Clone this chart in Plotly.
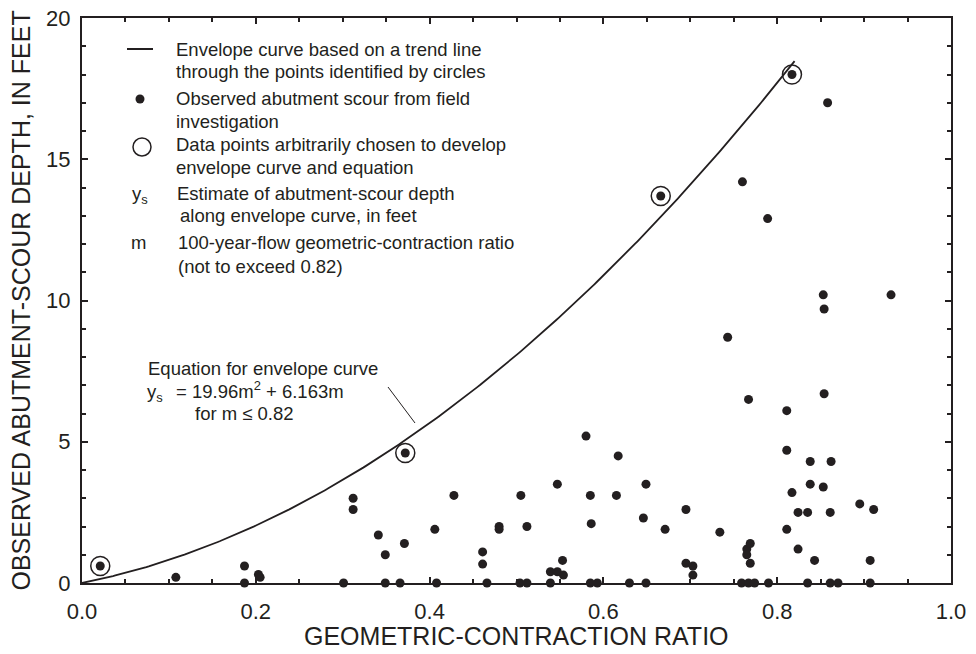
import numpy as np
import plotly.graph_objects as go

# ---------------- data ----------------
obs_x = [0.021, 0.108, 0.187, 0.187, 0.203, 0.205, 0.301, 0.312, 0.312, 0.341,
         0.349, 0.349, 0.366, 0.371, 0.372, 0.406, 0.408, 0.428, 0.461, 0.461,
         0.466, 0.480, 0.480, 0.504, 0.512, 0.505, 0.512, 0.539, 0.539, 0.547,
         0.553, 0.554, 0.547, 0.580, 0.585, 0.586, 0.585, 0.593, 0.617, 0.615,
         0.630, 0.646, 0.649, 0.649, 0.666, 0.671, 0.695, 0.695, 0.703, 0.703,
         0.734, 0.743, 0.759, 0.760, 0.765, 0.765, 0.767, 0.767, 0.769, 0.769,
         0.774, 0.789, 0.790, 0.811, 0.811, 0.811, 0.817, 0.817, 0.824, 0.824,
         0.835, 0.835, 0.838, 0.838, 0.843, 0.853, 0.853, 0.854, 0.854, 0.858,
         0.861, 0.861, 0.862, 0.870, 0.895, 0.907, 0.907, 0.911, 0.931]
obs_y = [0.6, 0.2, 0.6, 0.0, 0.3, 0.2, 0.0, 3.0, 2.6, 1.7,
         1.0, 0.0, 0.0, 1.4, 4.6, 1.9, 0.0, 3.1, 1.1, 0.67,
         0.0, 2.0, 1.9, 0.0, 0.0, 3.1, 2.0, 0.0, 0.4, 0.4,
         0.8, 0.28, 3.5, 5.2, 3.1, 2.1, 0.0, 0.0, 4.5, 3.1,
         0.0, 2.3, 3.5, 0.0, 13.7, 1.9, 2.6, 0.7, 0.6, 0.28,
         1.8, 8.7, 0.0, 14.2, 1.2, 1.0, 6.5, 0.0, 1.4, 0.7,
         0.0, 12.9, 0.0, 6.1, 4.7, 1.9, 18.0, 3.2, 2.5, 1.2,
         2.5, 0.0, 4.3, 3.5, 0.8, 10.2, 3.4, 9.7, 6.7, 17.0,
         2.5, 0.0, 4.3, 0.0, 2.8, 0.8, 0.0, 2.6, 10.2]

env_pts_x = [0.021, 0.372, 0.666, 0.817]
env_pts_y = [0.6, 4.6, 13.7, 18.0]

coef_a = 19.96      # ys = a*m^2 + b*m
coef_b = 6.163
m_max = 0.82

x_tick_vals = [0.0, 0.2, 0.4, 0.6, 0.8, 1.0]
x_tick_text = ["0.0", "0.2", "0.4", "0.6", "0.8", "1.0"]
y_tick_vals = [0, 5, 10, 15, 20]
y_tick_text = ["0", "5", "10", "15", "20"]

x_title = "GEOMETRIC-CONTRACTION RATIO"
y_title = "OBSERVED ABUTMENT-SCOUR DEPTH, IN FEET"

# ---------------- styling ----------------
INK = "#231f20"
FONT = "Liberation Sans, Arial, Helvetica, sans-serif"
W, H = 976, 654
# plot area in window pixels: x 82..951, y 18..583
ML, MR, MT, MB = 82, 25, 18, 71
PW, PH = W - ML - MR, H - MT - MB


def px(x):
    """window pixel x -> paper"""
    return (x - ML) / PW


def py(y):
    """window pixel y -> paper"""
    return (MT + PH - y) / PH


m = np.linspace(0, m_max, 300)
ys = coef_a * m ** 2 + coef_b * m

fig = go.Figure()
fig.add_trace(go.Scatter(x=m, y=ys, mode="lines",
                         line=dict(color=INK, width=1.8),
                         hoverinfo="skip", showlegend=False))
fig.add_trace(go.Scatter(x=obs_x, y=obs_y, mode="markers",
                         marker=dict(color=INK, size=9, line=dict(width=0)),
                         showlegend=False, cliponaxis=False))
fig.add_trace(go.Scatter(x=env_pts_x, y=env_pts_y, mode="markers",
                         marker=dict(symbol="circle-open", color=INK, size=19,
                                     line=dict(color=INK, width=1.5)),
                         showlegend=False, cliponaxis=False))

axis_common = dict(showline=True, linecolor=INK, linewidth=2, mirror="ticks",
                   ticks="inside", ticklen=6, tickwidth=2, tickcolor=INK,
                   showgrid=False, zeroline=False, ticklabeloverflow="allow",
                   tickfont=dict(family=FONT, size=22, color=INK))

fig.update_xaxes(range=[0, 1], tickvals=x_tick_vals, ticktext=x_tick_text,
                 ticklabelstandoff=8,
                 minor=dict(ticks="inside", dtick=0.05, ticklen=4, tickwidth=1.5,
                            tickcolor=INK, showgrid=False),
                 **axis_common)
fig.update_yaxes(range=[0, 20], tickvals=y_tick_vals, ticktext=y_tick_text,
                 ticklabelstandoff=5,
                 minor=dict(ticks="inside", dtick=1, ticklen=4, tickwidth=1.5,
                            tickcolor=INK, showgrid=False),
                 **axis_common)

shapes = []
annotations = []


def txt(x, y, s, size=18.5):
    annotations.append(dict(x=px(x), y=py(y), xref="paper", yref="paper",
                            text=s, showarrow=False, xanchor="left",
                            yanchor="middle",
                            font=dict(family=FONT, size=size, color=INK)))


# axis titles
annotations.append(dict(x=0.5, y=py(636), xref="paper", yref="paper",
                        text=x_title, showarrow=False, xanchor="center",
                        yanchor="middle",
                        font=dict(family=FONT, size=25, color=INK)))
annotations.append(dict(x=px(20), y=0.5, xref="paper", yref="paper",
                        text=y_title, showarrow=False, xanchor="center",
                        yanchor="middle", textangle=-90,
                        font=dict(family=FONT, size=25, color=INK)))

# legend: line sample
shapes.append(dict(type="line", xref="paper", yref="paper",
                   x0=px(127), x1=px(153), y0=py(49), y1=py(49),
                   line=dict(color=INK, width=2)))
txt(174, 49, "Envelope curve based on a trend line")
txt(174, 72, "through the points identified by circles")
# legend: dot
shapes.append(dict(type="circle", xref="paper", yref="paper",
                   xsizemode="pixel", ysizemode="pixel",
                   xanchor=px(140), yanchor=py(99),
                   x0=-4.5, x1=4.5, y0=-4.5, y1=4.5,
                   fillcolor=INK, line=dict(width=0)))
txt(174, 98, "Observed abutment scour from field")
txt(174, 121, "investigation")
# legend: open circle
shapes.append(dict(type="circle", xref="paper", yref="paper",
                   xsizemode="pixel", ysizemode="pixel",
                   xanchor=px(142), yanchor=py(147),
                   x0=-9, x1=9, y0=-9, y1=9,
                   line=dict(color=INK, width=1.5)))
txt(174, 144, "Data points arbitrarily chosen to develop")
txt(174, 167, "envelope curve and equation")
# legend: ys
txt(130, 195, "y<sub>s</sub>")
txt(175, 193, "Estimate of abutment-scour depth")
txt(178, 216, "along envelope curve, in feet")
# legend: m
txt(129, 243, "m")
txt(176, 243, "100-year-flow geometric-contraction ratio")
txt(176, 266, "(not to exceed 0.82)")

# equation annotation
txt(146, 368, "Equation for envelope curve")
txt(145, 393, "y<sub>s</sub>")
txt(174, 390, "= 19.96m<sup>2</sup> + 6.163m")
txt(193, 413, "for m \u2264 0.82")
shapes.append(dict(type="line", xref="paper", yref="paper",
                   x0=px(388), y0=py(387), x1=px(415), y1=py(423),
                   line=dict(color=INK, width=1)))

fig.update_layout(width=W, height=H,
                  margin=dict(l=ML, r=MR, t=MT, b=MB, autoexpand=False),
                  paper_bgcolor="white", plot_bgcolor="white",
                  shapes=shapes, annotations=annotations,
                  font=dict(family=FONT, color=INK))

fig.write_html("out.html",
               config={"displayModeBar": False},
               post_script="document.body.style.margin='0px';"
                           "document.body.style.overflow='hidden';")
